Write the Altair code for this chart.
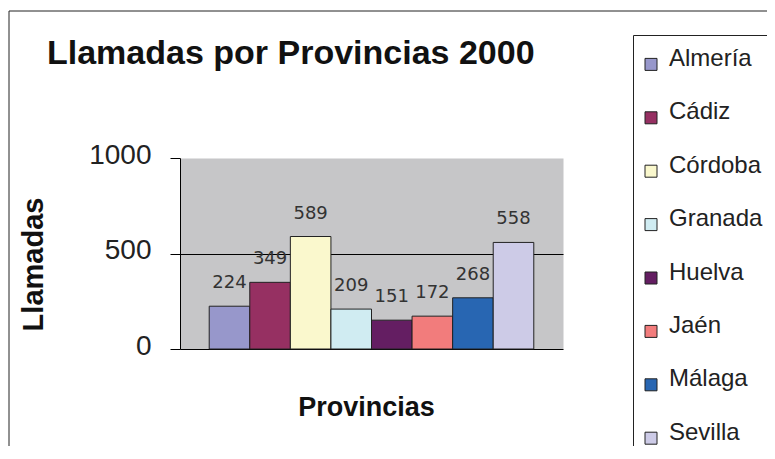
import altair as alt
import pandas as pd

provincias = ["Almería", "Cádiz", "Córdoba", "Granada", "Huelva", "Jaén", "Málaga", "Sevilla"]
llamadas = [224, 349, 589, 209, 151, 172, 268, 558]
colores = ["#9797CB", "#963062", "#FAF8CD", "#D0ECF2", "#641E62", "#F27C7C", "#2866B2", "#CDCBE7"]
y_ticks = [0, 500, 1000]

df = pd.DataFrame({"Provincia": provincias, "Llamadas": llamadas})
frame_df = pd.DataFrame({"f": [0]})

regular = "Liberation Sans, Arial, sans-serif"

x_enc = alt.X(
    "Provincia:N",
    sort=provincias,
    scale=alt.Scale(paddingInner=0, paddingOuter=0.72),
    axis=alt.Axis(
        labels=False, ticks=False, domainColor="black", domainWidth=1,
        title="Provincias", titleFont=regular, titleFontSize=27, titleFontWeight="bold",
        titleColor="#111", titleX=186, titleY=66, titleAlign="center",
        titleBaseline="alphabetic",
    ),
)
y_enc = alt.Y(
    "Llamadas:Q",
    scale=alt.Scale(domain=[0, 1000]),
    axis=alt.Axis(
        values=y_ticks, format="d", domainColor="black", tickColor="black", tickSize=10,
        labelFont=regular, labelFontSize=28, labelColor="#222", labelPadding=19,
        labelOffset=-3,
        grid=True, gridColor="black",
        gridOpacity={"condition": {"test": "datum.value === 500", "value": 1}, "value": 0},
        title="Llamadas", titleFont=regular, titleFontSize=29, titleFontWeight="bold",
        titleColor="#111", titleAngle=270, titleX=-138, titleY=106,
        titleAlign="center", titleBaseline="alphabetic",
    ),
)

frame = alt.Chart(frame_df).mark_rect(
    fill="transparent", stroke="#222", strokeWidth=1
).encode(
    x=alt.value(-171), x2=alt.value(700), y=alt.value(-147), y2=alt.value(500)
)

labels = alt.Chart(df).mark_text(
    font="DejaVu Sans", fontSize=18, color="#333", baseline="alphabetic", dy=-18
).encode(
    x=alt.X("Provincia:N", sort=provincias),
    y=alt.Y("Llamadas:Q"),
    text=alt.Text("Llamadas:Q"),
)

bars = alt.Chart(df).mark_bar(stroke="#222", strokeWidth=1, opacity=1).encode(
    x=x_enc,
    y=y_enc,
    color=alt.Color(
        "Provincia:N",
        sort=provincias,
        scale=alt.Scale(domain=provincias, range=colores),
        legend=alt.Legend(
            title=None, orient="none", legendX=453, legendY=-123,
            strokeColor="#222", padding=12, fillColor="white",
            symbolType="M-1,-0.1H1V1.9H-1Z", symbolSize=144, symbolOffset=-6,
            symbolStrokeColor="#222", symbolStrokeWidth=1, symbolOpacity=1,
            labelFont=regular, labelFontSize=24, labelColor="#222",
            labelOffset=6, rowPadding=27.4, labelLimit=300,
        ),
    ),
)

chart = alt.layer(frame, labels, bars).properties(
    width=383,
    height=191,
    padding={"left": 172, "top": 150, "right": 204, "bottom": 97},
    autosize=alt.AutoSizeParams(type="none"),
    background="white",
    title=alt.TitleParams(
        "Llamadas por Provincias 2000", anchor="start", frame="group",
        font=regular, fontSize=34, fontWeight="bold", color="#111",
        baseline="alphabetic", dx=-133, dy=87, offset=0,
    ),
).configure_view(fill="#C6C6C8", stroke="transparent")

chart.save("out.html", embed_options={"renderer": "svg", "actions": False})
